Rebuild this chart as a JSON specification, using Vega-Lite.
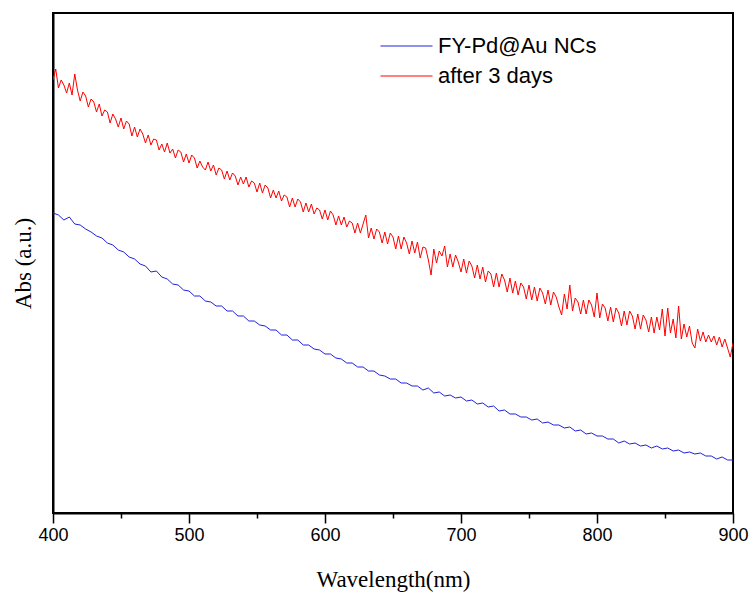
{
  "$schema": "https://vega.github.io/schema/vega-lite/v6.json",
  "width": 680,
  "height": 500,
  "autosize": {"type": "none"},
  "padding": {"left": 53, "top": 13, "right": 20, "bottom": 81},
  "background": "white",
  "config": {"view": {"stroke": "black", "strokeWidth": 2}},
  "data": {"values": [
      {"w":400,"a":300,"s":"FY-Pd@Au NCs"},{"w":404,"a":298,"s":"FY-Pd@Au NCs"},{"w":408,"a":293,"s":"FY-Pd@Au NCs"},{"w":412,"a":296,"s":"FY-Pd@Au NCs"},{"w":416,"a":289,"s":"FY-Pd@Au NCs"},{"w":420,"a":288,"s":"FY-Pd@Au NCs"},{"w":424,"a":284,"s":"FY-Pd@Au NCs"},{"w":428,"a":281,"s":"FY-Pd@Au NCs"},{"w":432,"a":277,"s":"FY-Pd@Au NCs"},{"w":436,"a":275,"s":"FY-Pd@Au NCs"},
      {"w":440,"a":270,"s":"FY-Pd@Au NCs"},{"w":444,"a":268,"s":"FY-Pd@Au NCs"},{"w":448,"a":263,"s":"FY-Pd@Au NCs"},{"w":452,"a":261,"s":"FY-Pd@Au NCs"},{"w":456,"a":256,"s":"FY-Pd@Au NCs"},{"w":460,"a":254,"s":"FY-Pd@Au NCs"},{"w":464,"a":249,"s":"FY-Pd@Au NCs"},{"w":468,"a":247,"s":"FY-Pd@Au NCs"},{"w":472,"a":241,"s":"FY-Pd@Au NCs"},{"w":476,"a":242,"s":"FY-Pd@Au NCs"},
      {"w":480,"a":236,"s":"FY-Pd@Au NCs"},{"w":484,"a":234,"s":"FY-Pd@Au NCs"},{"w":488,"a":229,"s":"FY-Pd@Au NCs"},{"w":492,"a":228,"s":"FY-Pd@Au NCs"},{"w":496,"a":223,"s":"FY-Pd@Au NCs"},{"w":500,"a":222,"s":"FY-Pd@Au NCs"},{"w":504,"a":217,"s":"FY-Pd@Au NCs"},{"w":508,"a":217,"s":"FY-Pd@Au NCs"},{"w":512,"a":212,"s":"FY-Pd@Au NCs"},{"w":516,"a":211,"s":"FY-Pd@Au NCs"},
      {"w":520,"a":207,"s":"FY-Pd@Au NCs"},{"w":524,"a":207,"s":"FY-Pd@Au NCs"},{"w":528,"a":202,"s":"FY-Pd@Au NCs"},{"w":532,"a":202,"s":"FY-Pd@Au NCs"},{"w":536,"a":197,"s":"FY-Pd@Au NCs"},{"w":540,"a":197,"s":"FY-Pd@Au NCs"},{"w":544,"a":192,"s":"FY-Pd@Au NCs"},{"w":548,"a":192,"s":"FY-Pd@Au NCs"},{"w":552,"a":188,"s":"FY-Pd@Au NCs"},{"w":556,"a":187,"s":"FY-Pd@Au NCs"},
      {"w":560,"a":183,"s":"FY-Pd@Au NCs"},{"w":564,"a":183,"s":"FY-Pd@Au NCs"},{"w":568,"a":178,"s":"FY-Pd@Au NCs"},{"w":572,"a":178,"s":"FY-Pd@Au NCs"},{"w":576,"a":173,"s":"FY-Pd@Au NCs"},{"w":580,"a":173,"s":"FY-Pd@Au NCs"},{"w":584,"a":168,"s":"FY-Pd@Au NCs"},{"w":588,"a":168,"s":"FY-Pd@Au NCs"},{"w":592,"a":164,"s":"FY-Pd@Au NCs"},{"w":596,"a":163,"s":"FY-Pd@Au NCs"},
      {"w":600,"a":159,"s":"FY-Pd@Au NCs"},{"w":604,"a":159,"s":"FY-Pd@Au NCs"},{"w":608,"a":155,"s":"FY-Pd@Au NCs"},{"w":612,"a":154,"s":"FY-Pd@Au NCs"},{"w":616,"a":150,"s":"FY-Pd@Au NCs"},{"w":620,"a":150,"s":"FY-Pd@Au NCs"},{"w":624,"a":146,"s":"FY-Pd@Au NCs"},{"w":628,"a":146,"s":"FY-Pd@Au NCs"},{"w":632,"a":142,"s":"FY-Pd@Au NCs"},{"w":636,"a":142,"s":"FY-Pd@Au NCs"},
      {"w":640,"a":138,"s":"FY-Pd@Au NCs"},{"w":644,"a":137,"s":"FY-Pd@Au NCs"},{"w":648,"a":134,"s":"FY-Pd@Au NCs"},{"w":652,"a":134,"s":"FY-Pd@Au NCs"},{"w":656,"a":130,"s":"FY-Pd@Au NCs"},{"w":660,"a":130,"s":"FY-Pd@Au NCs"},{"w":664,"a":127,"s":"FY-Pd@Au NCs"},{"w":668,"a":127,"s":"FY-Pd@Au NCs"},{"w":672,"a":123,"s":"FY-Pd@Au NCs"},{"w":676,"a":125,"s":"FY-Pd@Au NCs"},
      {"w":680,"a":120,"s":"FY-Pd@Au NCs"},{"w":684,"a":121,"s":"FY-Pd@Au NCs"},{"w":688,"a":117,"s":"FY-Pd@Au NCs"},{"w":692,"a":118,"s":"FY-Pd@Au NCs"},{"w":696,"a":115,"s":"FY-Pd@Au NCs"},{"w":700,"a":116,"s":"FY-Pd@Au NCs"},{"w":704,"a":112,"s":"FY-Pd@Au NCs"},{"w":708,"a":113,"s":"FY-Pd@Au NCs"},{"w":712,"a":109,"s":"FY-Pd@Au NCs"},{"w":716,"a":110,"s":"FY-Pd@Au NCs"},
      {"w":720,"a":106,"s":"FY-Pd@Au NCs"},{"w":724,"a":107,"s":"FY-Pd@Au NCs"},{"w":728,"a":102,"s":"FY-Pd@Au NCs"},{"w":732,"a":103,"s":"FY-Pd@Au NCs"},{"w":736,"a":99,"s":"FY-Pd@Au NCs"},{"w":740,"a":99,"s":"FY-Pd@Au NCs"},{"w":744,"a":96,"s":"FY-Pd@Au NCs"},{"w":748,"a":96,"s":"FY-Pd@Au NCs"},{"w":752,"a":93,"s":"FY-Pd@Au NCs"},{"w":756,"a":94,"s":"FY-Pd@Au NCs"},
      {"w":760,"a":90,"s":"FY-Pd@Au NCs"},{"w":764,"a":91,"s":"FY-Pd@Au NCs"},{"w":768,"a":88,"s":"FY-Pd@Au NCs"},{"w":772,"a":88,"s":"FY-Pd@Au NCs"},{"w":776,"a":85,"s":"FY-Pd@Au NCs"},{"w":780,"a":86,"s":"FY-Pd@Au NCs"},{"w":784,"a":82,"s":"FY-Pd@Au NCs"},{"w":788,"a":83,"s":"FY-Pd@Au NCs"},{"w":792,"a":79,"s":"FY-Pd@Au NCs"},{"w":796,"a":80,"s":"FY-Pd@Au NCs"},
      {"w":800,"a":77,"s":"FY-Pd@Au NCs"},{"w":804,"a":77,"s":"FY-Pd@Au NCs"},{"w":808,"a":74,"s":"FY-Pd@Au NCs"},{"w":812,"a":74,"s":"FY-Pd@Au NCs"},{"w":816,"a":70,"s":"FY-Pd@Au NCs"},{"w":820,"a":72,"s":"FY-Pd@Au NCs"},{"w":824,"a":69,"s":"FY-Pd@Au NCs"},{"w":828,"a":70,"s":"FY-Pd@Au NCs"},{"w":832,"a":67,"s":"FY-Pd@Au NCs"},{"w":836,"a":68,"s":"FY-Pd@Au NCs"},
      {"w":840,"a":65,"s":"FY-Pd@Au NCs"},{"w":844,"a":67,"s":"FY-Pd@Au NCs"},{"w":848,"a":64,"s":"FY-Pd@Au NCs"},{"w":852,"a":65,"s":"FY-Pd@Au NCs"},{"w":856,"a":62,"s":"FY-Pd@Au NCs"},{"w":860,"a":63,"s":"FY-Pd@Au NCs"},{"w":864,"a":60,"s":"FY-Pd@Au NCs"},{"w":868,"a":61,"s":"FY-Pd@Au NCs"},{"w":872,"a":59,"s":"FY-Pd@Au NCs"},{"w":876,"a":60,"s":"FY-Pd@Au NCs"},
      {"w":880,"a":57,"s":"FY-Pd@Au NCs"},{"w":884,"a":57,"s":"FY-Pd@Au NCs"},{"w":888,"a":54,"s":"FY-Pd@Au NCs"},{"w":892,"a":56,"s":"FY-Pd@Au NCs"},{"w":896,"a":53,"s":"FY-Pd@Au NCs"},{"w":900,"a":53,"s":"FY-Pd@Au NCs"},
      {"w":400,"a":433,"s":"after 3 days"},{"w":402,"a":444,"s":"after 3 days"},{"w":404,"a":425,"s":"after 3 days"},{"w":406,"a":433,"s":"after 3 days"},{"w":408,"a":428,"s":"after 3 days"},{"w":410,"a":420,"s":"after 3 days"},{"w":412,"a":430,"s":"after 3 days"},{"w":414,"a":418,"s":"after 3 days"},{"w":416,"a":439,"s":"after 3 days"},{"w":418,"a":423,"s":"after 3 days"},
      {"w":420,"a":412,"s":"after 3 days"},{"w":422,"a":421,"s":"after 3 days"},{"w":424,"a":417,"s":"after 3 days"},{"w":426,"a":406,"s":"after 3 days"},{"w":428,"a":414,"s":"after 3 days"},{"w":430,"a":411,"s":"after 3 days"},{"w":432,"a":401,"s":"after 3 days"},{"w":434,"a":409,"s":"after 3 days"},{"w":436,"a":397,"s":"after 3 days"},{"w":438,"a":403,"s":"after 3 days"},
      {"w":440,"a":401,"s":"after 3 days"},{"w":442,"a":390,"s":"after 3 days"},{"w":444,"a":399,"s":"after 3 days"},{"w":446,"a":394,"s":"after 3 days"},{"w":448,"a":386,"s":"after 3 days"},{"w":450,"a":395,"s":"after 3 days"},{"w":452,"a":384,"s":"after 3 days"},{"w":454,"a":392,"s":"after 3 days"},{"w":456,"a":389,"s":"after 3 days"},{"w":458,"a":377,"s":"after 3 days"},
      {"w":460,"a":386,"s":"after 3 days"},{"w":462,"a":376,"s":"after 3 days"},{"w":464,"a":384,"s":"after 3 days"},{"w":466,"a":379,"s":"after 3 days"},{"w":468,"a":370,"s":"after 3 days"},{"w":470,"a":378,"s":"after 3 days"},{"w":472,"a":368,"s":"after 3 days"},{"w":474,"a":374,"s":"after 3 days"},{"w":476,"a":373,"s":"after 3 days"},{"w":478,"a":363,"s":"after 3 days"},
      {"w":480,"a":369,"s":"after 3 days"},{"w":482,"a":361,"s":"after 3 days"},{"w":484,"a":370,"s":"after 3 days"},{"w":486,"a":360,"s":"after 3 days"},{"w":488,"a":364,"s":"after 3 days"},{"w":490,"a":355,"s":"after 3 days"},{"w":492,"a":363,"s":"after 3 days"},{"w":494,"a":361,"s":"after 3 days"},{"w":496,"a":351,"s":"after 3 days"},{"w":498,"a":359,"s":"after 3 days"},
      {"w":500,"a":350,"s":"after 3 days"},{"w":502,"a":358,"s":"after 3 days"},{"w":504,"a":355,"s":"after 3 days"},{"w":506,"a":345,"s":"after 3 days"},{"w":508,"a":352,"s":"after 3 days"},{"w":510,"a":346,"s":"after 3 days"},{"w":512,"a":343,"s":"after 3 days"},{"w":514,"a":351,"s":"after 3 days"},{"w":516,"a":342,"s":"after 3 days"},{"w":518,"a":348,"s":"after 3 days"},
      {"w":520,"a":338,"s":"after 3 days"},{"w":522,"a":345,"s":"after 3 days"},{"w":524,"a":343,"s":"after 3 days"},{"w":526,"a":334,"s":"after 3 days"},{"w":528,"a":342,"s":"after 3 days"},{"w":530,"a":333,"s":"after 3 days"},{"w":532,"a":340,"s":"after 3 days"},{"w":534,"a":337,"s":"after 3 days"},{"w":536,"a":328,"s":"after 3 days"},{"w":538,"a":336,"s":"after 3 days"},
      {"w":540,"a":329,"s":"after 3 days"},{"w":542,"a":336,"s":"after 3 days"},{"w":544,"a":326,"s":"after 3 days"},{"w":546,"a":332,"s":"after 3 days"},{"w":548,"a":330,"s":"after 3 days"},{"w":550,"a":321,"s":"after 3 days"},{"w":552,"a":330,"s":"after 3 days"},{"w":554,"a":320,"s":"after 3 days"},{"w":556,"a":328,"s":"after 3 days"},{"w":558,"a":325,"s":"after 3 days"},
      {"w":560,"a":315,"s":"after 3 days"},{"w":562,"a":323,"s":"after 3 days"},{"w":564,"a":315,"s":"after 3 days"},{"w":566,"a":322,"s":"after 3 days"},{"w":568,"a":312,"s":"after 3 days"},{"w":570,"a":318,"s":"after 3 days"},{"w":572,"a":316,"s":"after 3 days"},{"w":574,"a":306,"s":"after 3 days"},{"w":576,"a":315,"s":"after 3 days"},{"w":578,"a":306,"s":"after 3 days"},
      {"w":580,"a":314,"s":"after 3 days"},{"w":582,"a":311,"s":"after 3 days"},{"w":584,"a":301,"s":"after 3 days"},{"w":586,"a":310,"s":"after 3 days"},{"w":588,"a":301,"s":"after 3 days"},{"w":590,"a":309,"s":"after 3 days"},{"w":592,"a":299,"s":"after 3 days"},{"w":594,"a":305,"s":"after 3 days"},{"w":596,"a":303,"s":"after 3 days"},{"w":598,"a":294,"s":"after 3 days"},
      {"w":600,"a":303,"s":"after 3 days"},{"w":602,"a":293,"s":"after 3 days"},{"w":604,"a":302,"s":"after 3 days"},{"w":606,"a":298,"s":"after 3 days"},{"w":608,"a":288,"s":"after 3 days"},{"w":610,"a":297,"s":"after 3 days"},{"w":612,"a":288,"s":"after 3 days"},{"w":614,"a":296,"s":"after 3 days"},{"w":616,"a":286,"s":"after 3 days"},{"w":618,"a":292,"s":"after 3 days"},
      {"w":620,"a":290,"s":"after 3 days"},{"w":622,"a":280,"s":"after 3 days"},{"w":624,"a":290,"s":"after 3 days"},{"w":626,"a":280,"s":"after 3 days"},{"w":628,"a":289,"s":"after 3 days"},{"w":630,"a":298,"s":"after 3 days"},{"w":632,"a":275,"s":"after 3 days"},{"w":634,"a":285,"s":"after 3 days"},{"w":636,"a":274,"s":"after 3 days"},{"w":638,"a":284,"s":"after 3 days"},
      {"w":640,"a":281,"s":"after 3 days"},{"w":642,"a":270,"s":"after 3 days"},{"w":644,"a":281,"s":"after 3 days"},{"w":646,"a":269,"s":"after 3 days"},{"w":648,"a":280,"s":"after 3 days"},{"w":650,"a":276,"s":"after 3 days"},{"w":652,"a":264,"s":"after 3 days"},{"w":654,"a":277,"s":"after 3 days"},{"w":656,"a":264,"s":"after 3 days"},{"w":658,"a":276,"s":"after 3 days"},
      {"w":660,"a":270,"s":"after 3 days"},{"w":662,"a":259,"s":"after 3 days"},{"w":664,"a":272,"s":"after 3 days"},{"w":666,"a":260,"s":"after 3 days"},{"w":668,"a":271,"s":"after 3 days"},{"w":670,"a":255,"s":"after 3 days"},{"w":672,"a":266,"s":"after 3 days"},{"w":674,"a":265,"s":"after 3 days"},{"w":676,"a":253,"s":"after 3 days"},{"w":678,"a":238,"s":"after 3 days"},
      {"w":680,"a":264,"s":"after 3 days"},{"w":682,"a":250,"s":"after 3 days"},{"w":684,"a":262,"s":"after 3 days"},{"w":686,"a":257,"s":"after 3 days"},{"w":688,"a":267,"s":"after 3 days"},{"w":690,"a":246,"s":"after 3 days"},{"w":692,"a":259,"s":"after 3 days"},{"w":694,"a":246,"s":"after 3 days"},{"w":696,"a":258,"s":"after 3 days"},{"w":698,"a":251,"s":"after 3 days"},
      {"w":700,"a":241,"s":"after 3 days"},{"w":702,"a":254,"s":"after 3 days"},{"w":704,"a":240,"s":"after 3 days"},{"w":706,"a":252,"s":"after 3 days"},{"w":708,"a":247,"s":"after 3 days"},{"w":710,"a":235,"s":"after 3 days"},{"w":712,"a":248,"s":"after 3 days"},{"w":714,"a":234,"s":"after 3 days"},{"w":716,"a":246,"s":"after 3 days"},{"w":718,"a":231,"s":"after 3 days"},
      {"w":720,"a":242,"s":"after 3 days"},{"w":722,"a":239,"s":"after 3 days"},{"w":724,"a":226,"s":"after 3 days"},{"w":726,"a":240,"s":"after 3 days"},{"w":728,"a":226,"s":"after 3 days"},{"w":730,"a":239,"s":"after 3 days"},{"w":732,"a":233,"s":"after 3 days"},{"w":734,"a":221,"s":"after 3 days"},{"w":736,"a":235,"s":"after 3 days"},{"w":738,"a":220,"s":"after 3 days"},
      {"w":740,"a":232,"s":"after 3 days"},{"w":742,"a":218,"s":"after 3 days"},{"w":744,"a":230,"s":"after 3 days"},{"w":746,"a":226,"s":"after 3 days"},{"w":748,"a":214,"s":"after 3 days"},{"w":750,"a":228,"s":"after 3 days"},{"w":752,"a":213,"s":"after 3 days"},{"w":754,"a":226,"s":"after 3 days"},{"w":756,"a":212,"s":"after 3 days"},{"w":758,"a":225,"s":"after 3 days"},
      {"w":760,"a":220,"s":"after 3 days"},{"w":762,"a":209,"s":"after 3 days"},{"w":764,"a":223,"s":"after 3 days"},{"w":766,"a":208,"s":"after 3 days"},{"w":768,"a":221,"s":"after 3 days"},{"w":770,"a":216,"s":"after 3 days"},{"w":772,"a":206,"s":"after 3 days"},{"w":774,"a":198,"s":"after 3 days"},{"w":776,"a":219,"s":"after 3 days"},{"w":778,"a":204,"s":"after 3 days"},
      {"w":780,"a":228,"s":"after 3 days"},{"w":782,"a":202,"s":"after 3 days"},{"w":784,"a":215,"s":"after 3 days"},{"w":786,"a":211,"s":"after 3 days"},{"w":788,"a":199,"s":"after 3 days"},{"w":790,"a":213,"s":"after 3 days"},{"w":792,"a":199,"s":"after 3 days"},{"w":794,"a":213,"s":"after 3 days"},{"w":796,"a":208,"s":"after 3 days"},{"w":798,"a":196,"s":"after 3 days"},
      {"w":800,"a":220,"s":"after 3 days"},{"w":802,"a":195,"s":"after 3 days"},{"w":804,"a":209,"s":"after 3 days"},{"w":806,"a":205,"s":"after 3 days"},{"w":808,"a":192,"s":"after 3 days"},{"w":810,"a":206,"s":"after 3 days"},{"w":812,"a":191,"s":"after 3 days"},{"w":814,"a":205,"s":"after 3 days"},{"w":816,"a":200,"s":"after 3 days"},{"w":818,"a":187,"s":"after 3 days"},
      {"w":820,"a":202,"s":"after 3 days"},{"w":822,"a":188,"s":"after 3 days"},{"w":824,"a":202,"s":"after 3 days"},{"w":826,"a":197,"s":"after 3 days"},{"w":828,"a":184,"s":"after 3 days"},{"w":830,"a":199,"s":"after 3 days"},{"w":832,"a":184,"s":"after 3 days"},{"w":834,"a":198,"s":"after 3 days"},{"w":836,"a":193,"s":"after 3 days"},{"w":838,"a":181,"s":"after 3 days"},
      {"w":840,"a":196,"s":"after 3 days"},{"w":842,"a":180,"s":"after 3 days"},{"w":844,"a":196,"s":"after 3 days"},{"w":846,"a":183,"s":"after 3 days"},{"w":848,"a":204,"s":"after 3 days"},{"w":850,"a":177,"s":"after 3 days"},{"w":852,"a":205,"s":"after 3 days"},{"w":854,"a":180,"s":"after 3 days"},{"w":856,"a":194,"s":"after 3 days"},{"w":858,"a":175,"s":"after 3 days"},
      {"w":860,"a":207,"s":"after 3 days"},{"w":862,"a":174,"s":"after 3 days"},{"w":864,"a":189,"s":"after 3 days"},{"w":866,"a":176,"s":"after 3 days"},{"w":868,"a":187,"s":"after 3 days"},{"w":870,"a":170,"s":"after 3 days"},{"w":872,"a":165,"s":"after 3 days"},{"w":874,"a":184,"s":"after 3 days"},{"w":876,"a":172,"s":"after 3 days"},{"w":878,"a":181,"s":"after 3 days"},
      {"w":880,"a":171,"s":"after 3 days"},{"w":882,"a":178,"s":"after 3 days"},{"w":884,"a":171,"s":"after 3 days"},{"w":886,"a":177,"s":"after 3 days"},{"w":888,"a":168,"s":"after 3 days"},{"w":890,"a":176,"s":"after 3 days"},{"w":892,"a":166,"s":"after 3 days"},{"w":894,"a":174,"s":"after 3 days"},{"w":896,"a":165,"s":"after 3 days"},{"w":898,"a":156,"s":"after 3 days"},
      {"w":900,"a":170,"s":"after 3 days"}
  ]},
  "mark": {"type": "line", "strokeWidth": 1, "clip": true},
  "encoding": {
    "x": {
      "field": "w", "type": "quantitative",
      "scale": {"domain": [400, 900], "nice": false, "zero": false},
      "axis": {
        "title": "Wavelength(nm)",
        "values": [400, 450, 500, 550, 600, 650, 700, 750, 800, 850, 900],
        "labelExpr": "datum.value % 100 == 0 ? datum.label : ''",
        "labelOverlap": false,
        "labelFlush": false,
        "labelFont": "Liberation Sans",
        "labelFontSize": 18,
        "labelColor": "black",
        "labelPadding": 3,
        "tickSize": {"condition": {"test": "datum.value % 100 != 0", "value": 5}, "value": 10},
        "tickColor": "black",
        "tickWidth": 1.5,
        "domainColor": "black",
        "domainWidth": 2,
        "grid": false,
        "titleFont": "Liberation Serif",
        "titleFontSize": 23,
        "titleFontWeight": "normal",
        "titleColor": "black",
        "titlePadding": 24
      }
    },
    "y": {
      "field": "a", "type": "quantitative",
      "scale": {"domain": [0, 500], "nice": false},
      "axis": {
        "title": "Abs (a.u.)",
        "labels": false,
        "ticks": false,
        "grid": false,
        "domainColor": "black",
        "domainWidth": 2,
        "titleFont": "Liberation Serif",
        "titleFontSize": 23,
        "titleFontWeight": "normal",
        "titleColor": "black",
        "titlePadding": 18
      }
    },
    "color": {
      "field": "s", "type": "nominal",
      "scale": {"domain": ["FY-Pd@Au NCs", "after 3 days"], "range": ["#2020dd", "#ff0000"]},
      "legend": {
        "title": null,
        "orient": "none",
        "legendX": 327,
        "legendY": 18,
        "symbolType": "stroke",
        "symbolSize": 2704,
        "symbolStrokeWidth": 1,
        "labelFont": "Liberation Sans",
        "labelFontSize": 22,
        "labelColor": "black",
        "labelOffset": 5,
        "clipHeight": 30,
        "rowPadding": 0
      }
    }
  }
}
